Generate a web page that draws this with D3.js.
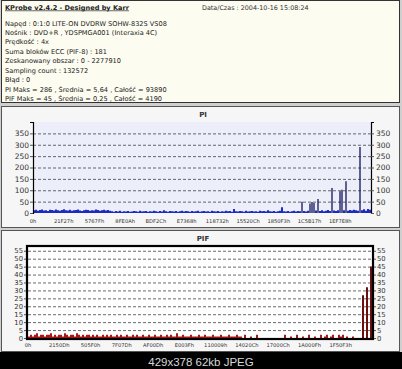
<!DOCTYPE html>
<html>
<head>
<meta charset="utf-8">
<script src="https://cdn.jsdelivr.net/npm/d3@7"></script>
<style>
  html, body { margin: 0; padding: 0; background: #000; }
  svg { display: block; font-family: "DejaVu Sans", sans-serif; }
</style>
</head>
<body>
<svg id="kprobe" width="402" height="369"></svg>
<script>
// tekst naglowka
var headerTitle = "KProbe v2.4.2 - Designed by Karr";
var headerDate = "Data/Czas : 2004-10-16 15:08:24";
var headerLines = [
  "Napęd : 0:1:0 LITE-ON DVDRW SOHW-832S VS08",
  "Nośnik : DVD+R , YDSPMGA001 (Interaxia 4C)",
  "Prędkość : 4x",
  "Suma bloków ECC (PIF-8) : 181",
  "Zeskanowany obszar : 0 - 2277910",
  "Sampling count : 132572",
  "Błąd : 0",
  "PI Maks = 286 , Średnia = 5,64 , Całość = 93890",
  "PIF Maks = 45 , Średnia = 0,25 , Całość = 4190"
];

// podzialki osi Y
var piTicks = [0, 50, 100, 150, 200, 250, 300, 350];
var pifTicks = [0, 5, 10, 15, 20, 25, 30, 35, 40, 45, 50, 55];

// etykiety osi X (LBA hex)
var piXLabels = ["0h", "21F27h", "5767Fh", "8FE0Ah", "BDF2Ch", "E7368h", "118732h", "15520Ch", "1850F3h", "1C5B17h", "1EF7E8h"];
var pifXLabels = ["0h", "2150Dh", "505F0h", "7F07Dh", "AF00Dh", "E003Fh", "110009h", "14020Ch", "17000Ch", "1A000Fh", "1F50F3h"];

// PI
var piValues = [
  12,14,10,13,15,11,12,9,14,13,11,15,12,10,13,16,12,11,14,10,12,13,15,11,9,12,14,13,10,12,11,15,13,10,12,14,11,13,10,
  8,6,9,7,10,6,8,7,9,6,
  7,9,8,6,10,7,8,9,6,8,
  7,10,8,6,9,7,12,8,6,9,
  8,7,9,6,8,10,7,9,8,6,
  9,7,8,10,6,8,9,7,8,6,
  10,8,7,9,6,8,7,10,8,9,
  6,18,8,7,9,8,6,10,7,8,
  9,7,8,6,10,8,9,7,12,8,
  7,9,6,8,10,25,8,7,9,6,
  8,10,7,9,8,
  50, 9,7,10, 42,48,44, 11, 62, 9,12,8,10,13,9,
  110, 11,9,12, 96,102, 12, 140, 10,13,11,14,12,10,
  290, 12,16,10,18,14
];

// PIF
var pifValues = [
  1,2,1,2,3,1,2,2,1,2,
  2,3,1,2,1,2,2,1,3,2,
  1,2,2,1,3,2,1,2,1,2,
  2,1,2,1,2,1,1,2,1,2,
  1,2,1,1,2,1,2,1,1,2,
  1,1,2,1,2,1,1,2,1,1,
  2,1,1,2,1,1,2,1,1,2,
  1,2,1,1,3,1,1,2,1,1,
  1,2,1,1,1,2,1,1,2,1,
  1,1,2,1,1,1,2,1,1,1,
  2,1,1,1,2,1,1,
  0,2,0,0,1,0,0,2,0,0,
  0,0,0,0,0,0,0,0,0,0,
  0,2,0,0,1,0,0,2,0,0,
  1,0,0,2,0,0,1,0,0,2,
  0,1,2,0,1,2,0,0,2,1,
  2,0,1,0,0,1,0,0,0,0,
  27, 0, 32, 0, 45
];

var svg = d3.select("#kprobe"),
    width = +svg.attr("width"),
    height = +svg.attr("height");

// tlo calosci
svg.append("rect").attr("width", width).attr("height", height).attr("fill", "#000");
svg.append("rect").attr("width", width).attr("height", 352).attr("fill", "#cfcfcf");

// ---------- naglowek ----------
svg.append("rect")
  .attr("x", 1.5).attr("y", 0.5).attr("width", 398).attr("height", 102)
  .attr("fill", "#fdfcf1").attr("stroke", "#333");

svg.append("text")
  .attr("x", 5).attr("y", 9.5)
  .attr("font-size", 6.6).attr("font-weight", "bold")
  .attr("text-decoration", "underline")
  .attr("fill", "#222")
  .text(headerTitle);

svg.append("text")
  .attr("x", 202).attr("y", 9.5)
  .attr("font-size", 6.4)
  .attr("fill", "#333")
  .text(headerDate);

svg.append("g").selectAll("text")
  .data(headerLines)
  .enter().append("text")
  .attr("x", 5)
  .attr("y", function(d, i) { return 25.5 + i * 9.43; })
  .attr("font-size", 6.6)
  .attr("fill", "#222")
  .text(function(d) { return d; });

// ---------- panele wykresow ----------
svg.append("rect")
  .attr("x", 1.5).attr("y", 106.5).attr("width", 398).attr("height", 121)
  .attr("fill", "#f6f6f6").attr("stroke", "#555");
svg.append("rect")
  .attr("x", 1.5).attr("y", 230.5).attr("width", 398).attr("height", 121)
  .attr("fill", "#f6f6f6").attr("stroke", "#555");

// ---------- wykres PI ----------
var pi = { left: 33, right: 371, top: 122, bottom: 213 };

var xPI = d3.scaleLinear().domain([0, piValues.length]).range([pi.left, pi.right]);
var yPI = d3.scaleLinear().domain([0, 400]).range([pi.bottom, pi.top]);

svg.append("text")
  .attr("x", 203).attr("y", 117)
  .attr("text-anchor", "middle")
  .attr("font-size", 7).attr("font-weight", "bold").attr("fill", "#333")
  .text("PI");

svg.append("rect")
  .attr("x", pi.left).attr("y", pi.top)
  .attr("width", pi.right - pi.left).attr("height", pi.bottom - pi.top)
  .attr("fill", "#eceefa");

// linie siatki
svg.append("g")
  .attr("transform", "translate(" + pi.left + ",0)")
  .call(d3.axisLeft(yPI).tickValues(piTicks.slice(1)).tickSize(-(pi.right - pi.left)).tickFormat(""))
  .call(function(g) { g.select(".domain").remove(); })
  .selectAll("line")
  .attr("stroke", "#444").attr("stroke-dasharray", "3,2").attr("stroke-width", 0.8);

// slupki PI
svg.append("g").selectAll("line")
  .data(piValues)
  .enter().append("line")
  .attr("x1", function(d, i) { return xPI(i) + 1; })
  .attr("x2", function(d, i) { return xPI(i) + 1; })
  .attr("y1", yPI(0))
  .attr("y2", function(d) { return yPI(d); })
  .attr("stroke", function(d) { return d > 30 ? "#14145a" : "#1c2cc0"; })
  .attr("stroke-width", function(d) { return d > 30 ? 1.3 : 2; });

// osie Y (lewa i prawa)
var piLeft = svg.append("g")
  .attr("transform", "translate(" + pi.left + ",0)")
  .call(d3.axisLeft(yPI).tickValues(piTicks).tickSize(3).tickPadding(1));
var piRight = svg.append("g")
  .attr("transform", "translate(" + pi.right + ",0)")
  .call(d3.axisRight(yPI).tickValues(piTicks).tickSize(3).tickPadding(2));
[piLeft, piRight].forEach(function(ax) {
  ax.select(".domain").attr("stroke", "#000").attr("stroke-width", 1.2);
  ax.selectAll("text").attr("font-size", 7.5).attr("fill", "#333").attr("font-family", "DejaVu Sans");
  ax.selectAll(".tick line").attr("stroke", "#555");
});

// etykiety osi X
var piStep = piValues.length / piXLabels.length;
svg.append("g").selectAll("text")
  .data(piXLabels)
  .enter().append("text")
  .attr("x", function(d, i) { return xPI(i * piStep); })
  .attr("y", 223)
  .attr("text-anchor", "middle")
  .attr("font-size", 5.2).attr("fill", "#333")
  .text(function(d) { return d; });

// ---------- wykres PIF ----------
var pf = { left: 28, right: 372, top: 246, bottom: 338 };

var xPF = d3.scaleLinear().domain([0, pifValues.length]).range([pf.left, pf.right]);
var yPF = d3.scaleLinear().domain([0, 58]).range([pf.bottom, pf.top]);

svg.append("text")
  .attr("x", 203).attr("y", 241)
  .attr("text-anchor", "middle")
  .attr("font-size", 7).attr("font-weight", "bold").attr("fill", "#333")
  .text("PIF");

svg.append("rect")
  .attr("x", pf.left).attr("y", pf.top)
  .attr("width", pf.right - pf.left).attr("height", pf.bottom - pf.top)
  .attr("fill", "#fff");

svg.append("g")
  .attr("transform", "translate(" + pf.left + ",0)")
  .call(d3.axisLeft(yPF).tickValues(pifTicks.slice(1)).tickSize(-(pf.right - pf.left)).tickFormat(""))
  .call(function(g) { g.select(".domain").remove(); })
  .selectAll("line")
  .attr("stroke", "#444").attr("stroke-dasharray", "3,2").attr("stroke-width", 0.8);

svg.append("g").selectAll("line")
  .data(pifValues)
  .enter().append("line")
  .attr("x1", function(d, i) { return xPF(i) + 1; })
  .attr("x2", function(d, i) { return xPF(i) + 1; })
  .attr("y1", yPF(0))
  .attr("y2", function(d) { return yPF(d); })
  .attr("stroke", function(d) { return d > 10 ? "#6a1010" : "#a81818"; })
  .attr("stroke-width", 2);

// ramka PIF
svg.append("rect")
  .attr("x", pf.left - 1).attr("y", pf.top)
  .attr("width", pf.right - pf.left + 2).attr("height", pf.bottom - pf.top + 1)
  .attr("fill", "none").attr("stroke", "#000").attr("stroke-width", 2.2);

var pfLeft = svg.append("g")
  .attr("transform", "translate(" + (pf.left - 2) + ",0)")
  .call(d3.axisLeft(yPF).tickValues(pifTicks).tickSize(2).tickPadding(1));
var pfRight = svg.append("g")
  .attr("transform", "translate(" + (pf.right + 2) + ",0)")
  .call(d3.axisRight(yPF).tickValues(pifTicks).tickSize(2).tickPadding(1));
[pfLeft, pfRight].forEach(function(ax) {
  ax.select(".domain").remove();
  ax.selectAll("text").attr("font-size", 6.8).attr("fill", "#333").attr("font-family", "DejaVu Sans");
  ax.selectAll(".tick line").attr("stroke", "#555");
});

var pfStep = pifValues.length / pifXLabels.length;
svg.append("g").selectAll("text")
  .data(pifXLabels)
  .enter().append("text")
  .attr("x", function(d, i) { return xPF(i * pfStep); })
  .attr("y", 347)
  .attr("text-anchor", "middle")
  .attr("font-size", 5.2).attr("fill", "#333")
  .text(function(d) { return d; });

// pasek miniatury na dole
svg.append("text")
  .attr("x", 201).attr("y", 365.5)
  .attr("text-anchor", "middle")
  .attr("font-family", "Liberation Sans, Arial, sans-serif")
  .attr("font-size", 11.5).attr("fill", "#d8d8d8")
  .text("429x378 62kb JPEG");
</script>
</body>
</html>
